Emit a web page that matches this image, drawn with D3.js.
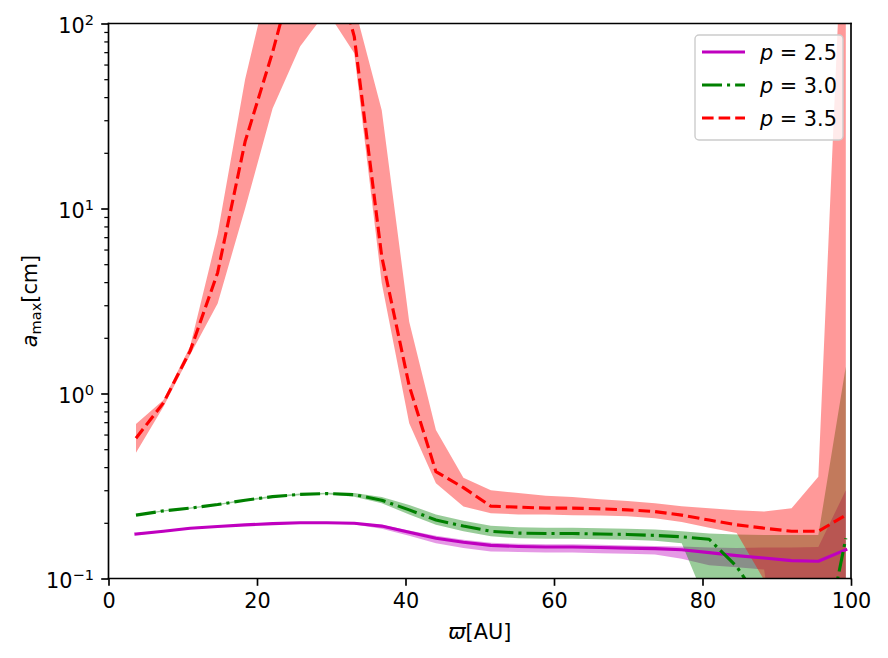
<!DOCTYPE html>
<html>
<head>
<meta charset="utf-8">
<script src="https://cdn.jsdelivr.net/npm/d3@7"></script>
<style>
  html, body { margin: 0; padding: 0; background: #fff; }
  svg { display: block; }
  text { font-family: "DejaVu Sans", sans-serif; fill: #000; }
</style>
</head>
<body>
<svg id="chart" width="888" height="658"></svg>
<script>
// ---- data ----
const radius = [3.7, 7.4, 11.0, 14.7, 18.4, 22.1, 25.8, 29.4, 33.1, 36.8, 40.5, 44.1, 47.8, 51.5,
                55.2, 58.9, 62.5, 66.2, 69.9, 73.6, 77.2, 80.9, 84.6, 88.3, 92.0, 95.6, 99.3];

const p25Line  = [0.174, 0.18, 0.187, 0.191, 0.195, 0.198, 0.2, 0.2, 0.199, 0.192, 0.178, 0.165, 0.157, 0.151,
                  0.149, 0.148, 0.148, 0.147, 0.146, 0.145, 0.143, 0.138, 0.133, 0.129, 0.125, 0.124, 0.143];
const p25Upper = [0.176, 0.182, 0.189, 0.193, 0.197, 0.2, 0.202, 0.202, 0.201, 0.195, 0.182, 0.17, 0.162, 0.156,
                  0.154, 0.153, 0.153, 0.152, 0.151, 0.15, 0.149, 0.147, 0.146, 0.147, 0.147, 0.148, 0.3];
const p25Lower = [0.172, 0.178, 0.185, 0.189, 0.193, 0.196, 0.198, 0.198, 0.196, 0.186, 0.17, 0.155, 0.146, 0.14,
                  0.139, 0.138, 0.138, 0.137, 0.136, 0.135, 0.128, 0.118, 0.115, 0.112, 0.01, 0.01, 0.01];

const p30Line  = [0.22, 0.232, 0.24, 0.251, 0.265, 0.277, 0.285, 0.288, 0.284, 0.265, 0.235, 0.207, 0.192, 0.18,
                  0.176, 0.175, 0.175, 0.174, 0.173, 0.171, 0.168, 0.163, 0.116, 0.07, 0.045, 0.03, 0.165];
const p30Upper = [0.222, 0.234, 0.242, 0.253, 0.268, 0.28, 0.288, 0.291, 0.29, 0.276, 0.25, 0.222, 0.205, 0.193,
                  0.189, 0.188, 0.188, 0.187, 0.186, 0.184, 0.18, 0.175, 0.173, 0.172, 0.172, 0.172, 1.4];
const p30Lower = [0.218, 0.23, 0.238, 0.249, 0.262, 0.274, 0.282, 0.285, 0.277, 0.255, 0.222, 0.195, 0.18, 0.169,
                  0.165, 0.164, 0.164, 0.163, 0.162, 0.16, 0.155, 0.068, 0.01, 0.005, 0.005, 0.005, 0.005];

const p35Line  = [0.573, 0.89, 1.7, 4.5, 23, 70, 250, 300, 85, 5.5, 1.1, 0.378, 0.31, 0.246,
                  0.243, 0.24, 0.24, 0.238, 0.235, 0.23, 0.22, 0.207, 0.195, 0.187, 0.18, 0.18, 0.22];
const p35Upper = [0.684, 0.922, 1.8, 7.3, 50, 210, 500, 600, 125, 34, 2.44, 0.635, 0.35, 0.30,
                  0.29, 0.28, 0.276, 0.268, 0.262, 0.255, 0.246, 0.24, 0.234, 0.23, 0.24, 0.355, 1000];
const p35Lower = [0.478, 0.849, 1.62, 3.07, 10, 34.7, 75, 117, 69, 3.95, 0.69, 0.327, 0.245, 0.225,
                  0.222, 0.222, 0.22, 0.219, 0.217, 0.212, 0.202, 0.188, 0.176, 0.098, 0.05, 0.04, 0.03];

const seriesNames = ["2.5", "3.0", "3.5"];
const xTickValues = [0, 20, 40, 60, 80, 100];
const yTickValues = [0.1, 1, 10, 100];
const yTickExps = ["\u22121", "0", "1", "2"];
const yMinorTicks = [0.2,0.3,0.4,0.5,0.6,0.7,0.8,0.9, 2,3,4,5,6,7,8,9, 20,30,40,50,60,70,80,90];

// ---- layout ----
const L = 108.5, R = 851, T = 23.5, B = 578.5;
const FS = 20.8;
const svg = d3.select("#chart");

const x = d3.scaleLinear().domain([0, 100]).range([L, R]);
const y = d3.scaleLog().domain([0.1, 100]).range([B, T]);

svg.append("defs").append("clipPath").attr("id", "plotclip")
  .append("rect").attr("x", L).attr("y", T).attr("width", R - L).attr("height", B - T);

const series = [
  { name: seriesNames[0], line: p25Line, up: p25Upper, lo: p25Lower, color: "#bf00bf", dash: null },
  { name: seriesNames[1], line: p30Line, up: p30Upper, lo: p30Lower, color: "#008000", dash: "20,5,3.1,5" },
  { name: seriesNames[2], line: p35Line, up: p35Upper, lo: p35Lower, color: "#ff0000", dash: "11.6,5" }
];

const plot = svg.append("g").attr("clip-path", "url(#plotclip)");

const area = d3.area()
  .x((d, i) => x(radius[i]))
  .y0(d => y(d[0]))
  .y1(d => y(d[1]));

series.forEach(s => {
  const pts = s.lo.map((v, i) => [v, s.up[i]]);
  plot.append("path").attr("d", area(pts))
    .attr("fill", s.color).attr("fill-opacity", 0.4).attr("stroke", "none");
});

const line = d3.line().x((d, i) => x(radius[i])).y(d => y(d));
series.forEach(s => {
  const p = plot.append("path").attr("d", line(s.line))
    .attr("fill", "none").attr("stroke", s.color).attr("stroke-width", 3.125)
    .attr("stroke-linejoin", "round");
  if (s.dash) p.attr("stroke-dasharray", s.dash).attr("stroke-linecap", "butt");
  else p.attr("stroke-linecap", "square");
});

// ---- axes ----
const xAxis = svg.append("g").attr("transform", `translate(0,${B})`)
  .call(d3.axisBottom(x).tickValues(xTickValues).tickSize(7.3).tickPadding(7.3).tickFormat(d3.format("d")));
xAxis.select(".domain").remove();
xAxis.selectAll("line").attr("stroke-width", 1.67);
xAxis.selectAll("text").style("font-size", FS + "px").style("font-family", "DejaVu Sans");

const yMinor = svg.append("g").attr("transform", `translate(${L},0)`)
  .call(d3.axisLeft(y).tickValues(yMinorTicks).tickSize(4.2).tickFormat(""));
yMinor.select(".domain").remove();
yMinor.selectAll("line").attr("stroke-width", 1.25);

const yAxis = svg.append("g").attr("transform", `translate(${L},0)`)
  .call(d3.axisLeft(y).tickValues(yTickValues).tickSize(7.3).tickFormat(""));
yAxis.select(".domain").remove();
yAxis.selectAll("line").attr("stroke-width", 1.67);
yAxis.selectAll(".tick text").remove();
yAxis.selectAll(".tick").each(function(d, i) {
  const t = d3.select(this).append("text")
    .attr("x", -14.6).attr("y", 9).attr("text-anchor", "end")
    .style("font-size", FS + "px").attr("fill", "#000");
  t.append("tspan").text("10");
  t.append("tspan").attr("dy", -8.5).style("font-size", (FS * 0.7) + "px").text(yTickExps[i]);
});

// spines
const sp = svg.append("g").attr("stroke", "#000").attr("stroke-width", 1.67).attr("stroke-linecap", "square");
sp.append("line").attr("x1", L).attr("x2", R).attr("y1", B).attr("y2", B);
sp.append("line").attr("x1", L).attr("x2", R).attr("y1", T).attr("y2", T);
sp.append("line").attr("x1", L).attr("x2", L).attr("y1", T).attr("y2", B);
sp.append("line").attr("x1", R).attr("x2", R).attr("y1", T).attr("y2", B);

// axis labels
const xl = svg.append("text").attr("x", (L + R) / 2).attr("y", 639).attr("text-anchor", "middle")
  .style("font-size", FS + "px");
xl.append("tspan").style("font-style", "italic").text("\u03D6");
xl.append("tspan").text("[AU]");

const yl = svg.append("text").attr("transform", `translate(37,${(T + B) / 2}) rotate(-90)`)
  .attr("text-anchor", "middle").style("font-size", FS + "px");
yl.append("tspan").style("font-style", "italic").text("a");
yl.append("tspan").attr("dy", 4).style("font-size", (FS * 0.7) + "px").text("max");
yl.append("tspan").attr("dy", -4).text("[cm]");

// ---- legend ----
const lg = svg.append("g");
lg.append("rect").attr("x", 695).attr("y", 35).attr("width", 148).attr("height", 105)
  .attr("rx", 4).attr("fill", "#fff").attr("fill-opacity", 0.8)
  .attr("stroke", "#cccccc").attr("stroke-width", 1.4);
series.forEach((s, i) => {
  const cy = 52 + i * 33;
  const h = lg.append("line").attr("x1", 702).attr("x2", 745).attr("y1", cy).attr("y2", cy)
    .attr("stroke", s.color).attr("stroke-width", 3.125);
  if (s.dash) h.attr("stroke-dasharray", s.dash);
  const t = lg.append("text").attr("x", 760).attr("y", cy + 7.5).style("font-size", FS + "px");
  t.append("tspan").style("font-style", "italic").text("p");
  t.append("tspan").text(" = " + s.name);
});
</script>
</body>
</html>
